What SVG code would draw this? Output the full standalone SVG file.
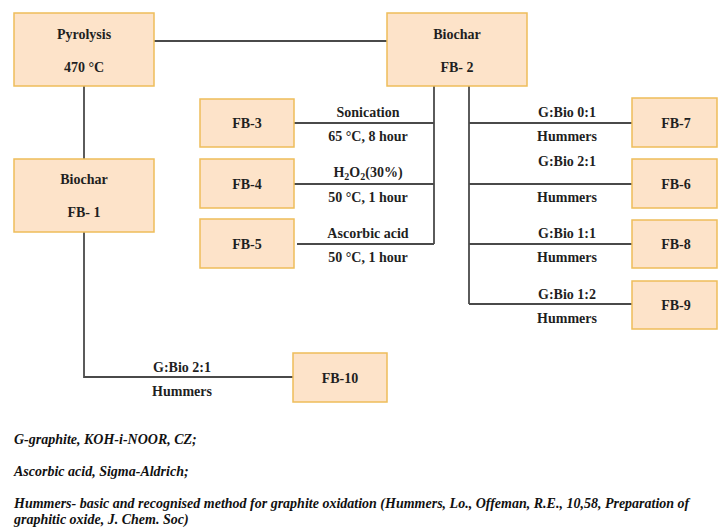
<svg xmlns="http://www.w3.org/2000/svg" width="718" height="528" viewBox="0 0 718 528">
<style>
.box{fill:#fde3c9;stroke:#eebd5a;stroke-width:1.5}
.t{font-family:"Liberation Serif","Times New Roman",serif;font-weight:bold;font-size:14px;fill:#1f1f1f;text-anchor:middle}
.fn{font-family:"Liberation Serif","Times New Roman",serif;font-weight:bold;font-style:italic;font-size:14px;fill:#111}
.ln{stroke:#4a4a4a;stroke-width:1.8;fill:none}
</style>
<rect width="718" height="528" fill="#fff"/>
<g id="connectors">
<path class="ln" d="M154 41H387"/>
<path class="ln" d="M84 86V159"/>
<path class="ln" d="M84 232V377H293"/>
<path class="ln" d="M434 86V244"/>
<path class="ln" d="M294 123H434"/>
<path class="ln" d="M294 184H434"/>
<path class="ln" d="M297 244H434"/>
<path class="ln" d="M469 86V304"/>
<path class="ln" d="M469 123H632"/>
<path class="ln" d="M469 184H632"/>
<path class="ln" d="M469 244H632"/>
<path class="ln" d="M469 304H632"/>
</g>
<g id="labels">
<text class="t" x="368" y="117">Sonication</text>
<text class="t" x="368" y="141">65 °C, 8 hour</text>
<text class="t" x="368" y="177">H<tspan font-size="10" dy="3">2</tspan><tspan dy="-3">O</tspan><tspan font-size="10" dy="3">2</tspan><tspan dy="-3">(30%)</tspan></text>
<text class="t" x="368" y="202">50 °C, 1 hour</text>
<text class="t" x="368" y="238">Ascorbic acid</text>
<text class="t" x="368" y="262">50 °C, 1 hour</text>
<text class="t" x="567" y="117">G:Bio 0:1</text>
<text class="t" x="567" y="141">Hummers</text>
<text class="t" x="567" y="166">G:Bio 2:1</text>
<text class="t" x="567" y="202">Hummers</text>
<text class="t" x="567" y="238">G:Bio 1:1</text>
<text class="t" x="567" y="262">Hummers</text>
<text class="t" x="567" y="299">G:Bio 1:2</text>
<text class="t" x="567" y="323">Hummers</text>
<text class="t" x="182" y="372">G:Bio 2:1</text>
<text class="t" x="182" y="396">Hummers</text>
</g>
<g id="pyrolysis"><rect class="box" x="14" y="13" width="140" height="73"/><text class="t" x="84" y="39">Pyrolysis</text><text class="t" x="84" y="72">470 °C</text></g>
<g id="fb2"><rect class="box" x="387" y="13" width="140" height="73"/><text class="t" x="457" y="39">Biochar</text><text class="t" x="457" y="72">FB- 2</text></g>
<g id="fb1"><rect class="box" x="14" y="159" width="140" height="73"/><text class="t" x="84" y="184">Biochar</text><text class="t" x="84" y="217">FB- 1</text></g>
<g id="fb3"><rect class="box" x="200" y="99" width="94" height="48"/><text class="t" x="247" y="128">FB-3</text></g>
<g id="fb4"><rect class="box" x="200" y="159" width="94" height="49"/><text class="t" x="247" y="189">FB-4</text></g>
<g id="fb5"><rect class="box" x="200" y="219" width="94" height="49"/><text class="t" x="247" y="249">FB-5</text></g>
<g id="fb7"><rect class="box" x="632" y="98" width="85" height="49"/><text class="t" x="676" y="128">FB-7</text></g>
<g id="fb6"><rect class="box" x="632" y="159" width="85" height="49"/><text class="t" x="676" y="189">FB-6</text></g>
<g id="fb8"><rect class="box" x="632" y="220" width="85" height="48"/><text class="t" x="676" y="249">FB-8</text></g>
<g id="fb9"><rect class="box" x="632" y="281" width="85" height="48"/><text class="t" x="676" y="310">FB-9</text></g>
<g id="fb10"><rect class="box" x="293" y="353" width="94" height="49"/><text class="t" x="340" y="383">FB-10</text></g>
<g id="notes">
<text class="fn" x="14" y="444">G-graphite, KOH-i-NOOR, CZ;</text>
<text class="fn" x="14" y="476">Ascorbic acid, Sigma-Aldrich;</text>
<text class="fn" x="14" y="508">Hummers- basic and recognised method for graphite oxidation (Hummers, Lo., Offeman, R.E., 10,58, Preparation of</text>
<text class="fn" x="14" y="524">graphitic oxide, J. Chem. Soc)</text>
</g>
</svg>
